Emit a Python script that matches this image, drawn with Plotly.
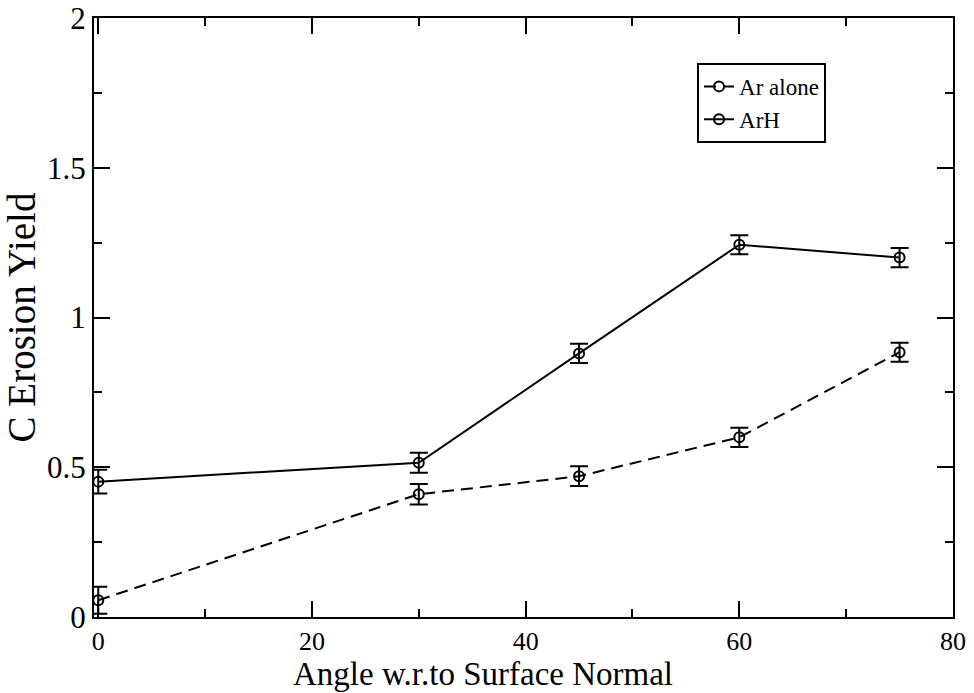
import plotly.graph_objects as go

angles = [0, 30, 45, 60, 75]
ar_alone = [0.056, 0.41, 0.47, 0.60, 0.884]
ar_alone_err = [0.045, 0.034, 0.033, 0.032, 0.032]
arh = [0.452, 0.515, 0.88, 1.243, 1.200]
arh_err = [0.04, 0.033, 0.032, 0.032, 0.032]
x_title = "Angle w.r.to Surface Normal"
y_title = "C Erosion Yield"

FONT = "Liberation Serif"
B = 76
PH = 693 - 18 - B

fig = go.Figure()
fig.add_trace(go.Scatter(
    x=angles, y=ar_alone, name="Ar alone", mode="lines+markers",
    line=dict(color="black", width=2, dash="12px,7px"),
    marker=dict(symbol="circle-open", size=10, color="black", line=dict(width=2)),
    error_y=dict(type="data", array=ar_alone_err, visible=True, color="black", thickness=2, width=9),
    cliponaxis=False,
))
fig.add_trace(go.Scatter(
    x=angles, y=arh, name="ArH", mode="lines+markers",
    line=dict(color="black", width=2),
    marker=dict(symbol="circle-open", size=10, color="black", line=dict(width=2)),
    error_y=dict(type="data", array=arh_err, visible=True, color="black", thickness=2, width=9),
    cliponaxis=False,
))

axis_common = dict(
    showline=True, linecolor="black", linewidth=2, mirror="ticks",
    ticks="inside", ticklen=16, tickwidth=2, tickcolor="black",
    showgrid=False, zeroline=False, automargin=False,
)
fig.update_xaxes(
    range=[-0.4, 80], tick0=0, dtick=20,
    minor=dict(ticks="inside", ticklen=8, tickwidth=2, tickcolor="black", dtick=10, showgrid=False),
    tickfont=dict(family=FONT, size=26, color="black"),
    **axis_common,
)
fig.update_yaxes(
    range=[0, 2], tick0=0, dtick=0.5,
    minor=dict(ticks="inside", ticklen=8, tickwidth=2, tickcolor="black", dtick=0.25, showgrid=False),
    tickfont=dict(family=FONT, size=31, color="black"),
    title=dict(text=y_title, font=dict(family=FONT, size=39, color="black")),
    **axis_common,
)
fig.add_annotation(
    text=x_title, xref="paper", yref="paper", x=0.453, y=-B / PH,
    xanchor="center", yanchor="bottom", showarrow=False, borderpad=0,
    font=dict(family=FONT, size=33, color="black"),
)
fig.update_layout(
    width=974, height=693,
    margin=dict(l=94, r=21, t=18, b=B),
    plot_bgcolor="white", paper_bgcolor="white",
    showlegend=True,
    legend=dict(
        x=0.702, y=0.925, xanchor="left", yanchor="top",
        bgcolor="white", bordercolor="black", borderwidth=2,
        font=dict(family=FONT, size=23, color="black"),
        tracegroupgap=0, itemwidth=30,
    ),
)
fig.write_html("out.html")
